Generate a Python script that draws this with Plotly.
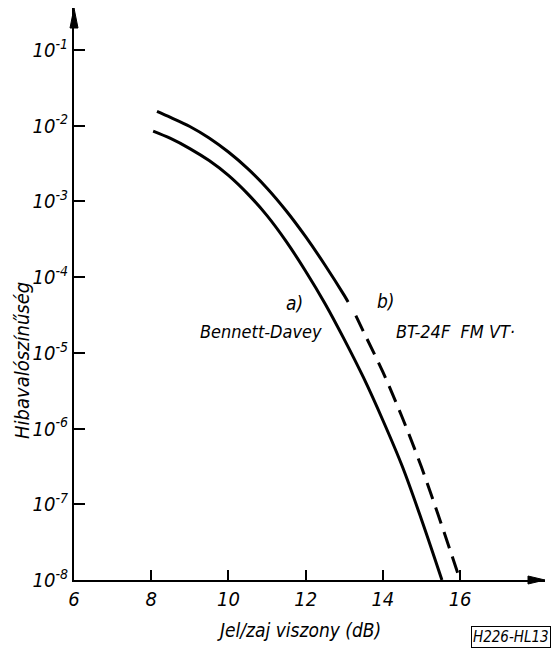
import plotly.graph_objects as go

# Signal/noise (dB) and error probability
snr_a = [8.05, 8.5, 9.0, 9.5, 10.0, 10.5, 11.0, 11.5, 12.0, 12.5, 13.0, 13.5, 14.0, 14.5, 15.0, 15.53]
p_a = [8.5e-3, 6.8e-3, 5.0e-3, 3.47e-3, 2.21e-3, 1.26e-3, 6.5e-4, 2.95e-4, 1.2e-4,
       4.5e-5, 1.51e-5, 4.7e-6, 1.29e-6, 3.2e-7, 6.3e-8, 1.0e-8]

snr_b_solid = [8.15, 8.5, 9.0, 9.5, 10.0, 10.5, 11.0, 11.5, 12.0, 12.5, 13.0, 13.1]
p_b_solid = [1.55e-2, 1.29e-2, 9.8e-3, 6.9e-3, 4.5e-3, 2.72e-3, 1.5e-3, 7.5e-4,
             3.43e-4, 1.45e-4, 5.75e-5, 4.7e-5]

snr_b_dash = [13.3, 13.5, 14.0, 14.5, 15.0, 15.5, 16.0]
p_b_dash = [3.1e-5, 1.9e-5, 5.6e-6, 1.41e-6, 3.1e-7, 5.75e-8, 1.0e-8]

x_tickvals = [6, 8, 10, 12, 14, 16]
y_tickvals = [1e-1, 1e-2, 1e-3, 1e-4, 1e-5, 1e-6, 1e-7, 1e-8]
y_ticktext = ["10<sup>-1</sup>", "10<sup>-2</sup>", "10<sup>-3</sup>", "10<sup>-4</sup>",
              "10<sup>-5</sup>", "10<sup>-6</sup>", "10<sup>-7</sup>", "10<sup>-8</sup>"]

FONT = "DejaVu Sans Condensed, DejaVu Sans, sans-serif"

fig = go.Figure()
fig.add_trace(go.Scatter(x=snr_a, y=p_a, mode="lines",
                         line=dict(color="black", width=3, shape="spline", smoothing=1.0),
                         showlegend=False))
fig.add_trace(go.Scatter(x=snr_b_solid, y=p_b_solid, mode="lines",
                         line=dict(color="black", width=3, shape="spline", smoothing=1.0),
                         showlegend=False))
fig.add_trace(go.Scatter(x=snr_b_dash, y=p_b_dash, mode="lines",
                         line=dict(color="black", width=3, dash="17px,9px", shape="spline", smoothing=1.0),
                         showlegend=False))

# plot area in pixels: x 74..545, y 8..580
PW, PH = 471.0, 572.0

def px(x):
    return (x - 74) / PW

def py(y):
    return (580 - y) / PH

arrow_x = dict(type="path", xref="paper", yref="paper",
               path=f"M 1,0 L {1 - 17 / PW},{4 / PH} L {1 - 17 / PW},{-4 / PH} Z",
               fillcolor="black", line=dict(color="black", width=1))
arrow_y = dict(type="path", xref="paper", yref="paper",
               path=f"M 0,1 L {-4 / PW},{1 - 20 / PH} L {4 / PW},{1 - 20 / PH} Z",
               fillcolor="black", line=dict(color="black", width=1))

fig.update_layout(
    width=558, height=651,
    margin=dict(l=74, r=13, t=8, b=71),
    paper_bgcolor="white", plot_bgcolor="white",
    font=dict(family=FONT, color="black", style="italic"),
    xaxis=dict(range=[6, 18.2], tickvals=x_tickvals, ticks="inside", ticklen=10, tickwidth=2,
               tickcolor="black", showline=True, linecolor="black", linewidth=2, showgrid=False,
               zeroline=False, tickfont=dict(size=20, family=FONT, style="italic")),
    yaxis=dict(type="log", range=[-8, -0.444], tickvals=y_tickvals, ticktext=y_ticktext,
               ticks="inside", ticklen=11, tickwidth=2, tickcolor="black",
               showline=True, linecolor="black", linewidth=2, showgrid=False, zeroline=False,
               tickfont=dict(size=20, family=FONT, style="italic")),
    shapes=[arrow_x, arrow_y],
    annotations=[
        dict(xref="paper", yref="paper", x=px(299), y=py(630),
             text="Jel/zaj viszony (dB)", showarrow=False, font=dict(size=19, style="italic"),
             xanchor="center", yanchor="middle"),
        dict(xref="paper", yref="paper", x=px(22), y=py(361),
             text="Hibavalószínűség", textangle=-90, showarrow=False,
             font=dict(size=20, style="italic"), xanchor="center", yanchor="middle"),
        dict(xref="paper", yref="paper", x=px(294), y=py(303),
             text="a)", showarrow=False, font=dict(size=19, style="italic"),
             xanchor="center", yanchor="middle"),
        dict(xref="paper", yref="paper", x=px(261), y=py(331),
             text="Bennett-Davey", showarrow=False, font=dict(size=18, style="italic"),
             xanchor="center", yanchor="middle"),
        dict(xref="paper", yref="paper", x=px(386), y=py(301),
             text="b)", showarrow=False, font=dict(size=19, style="italic"),
             xanchor="center", yanchor="middle"),
        dict(xref="paper", yref="paper", x=px(455), y=py(331),
             text="BT-24F  FM VT·", showarrow=False, font=dict(size=18, style="italic"),
             xanchor="center", yanchor="middle"),
        dict(xref="paper", yref="paper", x=px(511), y=py(637),
             text="H226-HL13", showarrow=False, font=dict(size=15, style="italic"),
             bordercolor="black", borderwidth=1, borderpad=1,
             xanchor="center", yanchor="middle"),
    ],
)

fig.write_html("out.html")
